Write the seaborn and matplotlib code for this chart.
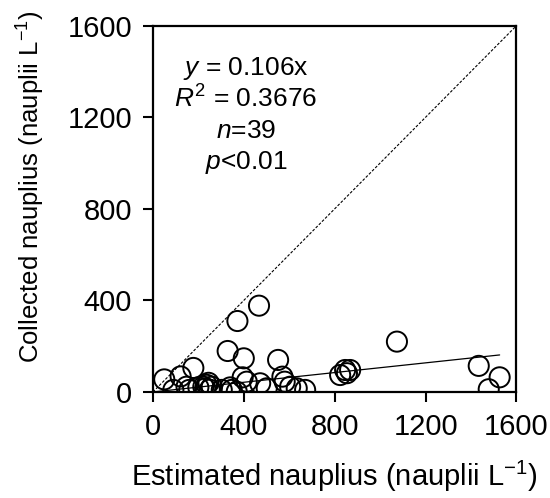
import numpy as np
import pandas as pd
import matplotlib
matplotlib.use("Agg")
import matplotlib.pyplot as plt
import seaborn as sns

# Estimated vs. collected nauplius densities (nauplii per litre)
estimated = [467, 372, 329, 400, 551, 178, 50, 122, 570, 395,
             1074, 1434, 1526, 1478, 824, 846, 868, 854, 90, 148,
             160, 222, 237, 259, 303, 347, 369, 413, 472, 501,
             604, 633, 670, 245, 230, 200, 580, 340, 250]
collected = [377, 310, 179, 147, 140, 105, 55, 68, 67, 64,
             220, 114, 64, 12, 74, 96, 96, 82, 9, 23,
             9, 23, 31, 23, 9, 9, 1, 45, 38, 16,
             23, 16, 9, 40, 15, 20, 45, 20, 10]

slope = 0.106
r_squared = "0.3676"
n_obs = 39
p_text = "<0.01"

ticks = [0, 400, 800, 1200, 1600]

sns.set_theme(style="ticks")
plt.rcParams["font.family"] = ["Liberation Sans", "DejaVu Sans"]
plt.rcParams["mathtext.fontset"] = "custom"
plt.rcParams["mathtext.rm"] = "Liberation Sans"
plt.rcParams["mathtext.it"] = "Liberation Sans:italic"

df = pd.DataFrame({"estimated": estimated, "collected": collected})

fig = plt.figure(figsize=(5.5, 4.98), dpi=100)
ax = fig.add_axes([0.278, 0.2129, 0.661, 0.7355])

# 1:1 reference line
sns.lineplot(x=[0, 1600], y=[0, 1600], ax=ax, color="black",
             linestyle=(0, (2.5, 1.5)), linewidth=0.8)

# fitted line through the origin
x_fit = np.array([0, max(estimated)])
sns.lineplot(x=x_fit, y=slope * x_fit, ax=ax, color="black", linewidth=0.9)

sns.scatterplot(data=df, x="estimated", y="collected", ax=ax,
                s=210, facecolor="none", edgecolor="black", linewidth=1.4,
                zorder=3)

ax.set_xlim(0, 1600)
ax.set_ylim(0, 1600)
ax.set_xticks(ticks)
ax.set_yticks(ticks)
ax.tick_params(axis="both", direction="out", length=7, width=1.5,
               labelsize=21, color="black", labelcolor="black", pad=8)
for side in ["left", "right", "top", "bottom"]:
    ax.spines[side].set_visible(True)
    ax.spines[side].set_linewidth(1.6)
    ax.spines[side].set_color("black")

ax.set_xlabel("Estimated nauplius (nauplii L$^{-1}$)", fontsize=21,
              labelpad=13, color="black")
ax.set_ylabel("Collected nauplius (nauplii L$^{-1}$)", fontsize=18.5,
              color="black")
ax.yaxis.set_label_coords(-0.29, 0.56)

stats = [f"$y$ = {slope}x", f"$R^{{2}}$ = {r_squared}",
         f"$n$={n_obs}", f"$p${p_text}"]
for i, line in enumerate(stats):
    ax.text(410, 1415 - i * 137, line, fontsize=19, ha="center",
            va="center", color="black")

fig.savefig("out.png", dpi=100)
